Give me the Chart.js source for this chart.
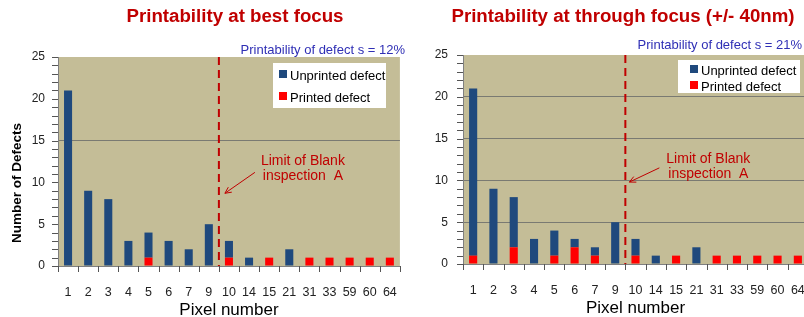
<!DOCTYPE html>
<html>
<head>
<meta charset="utf-8">
<script src="https://cdn.jsdelivr.net/npm/chart.js@4.4.0/dist/chart.umd.min.js"></script>
<style>
html, body { margin: 0; padding: 0; background: #fff; overflow: hidden; width: 804px; height: 317px; }
canvas { position: absolute; top: 0; }
#best { left: 0; }
#through { left: 400px; }
</style>
</head>
<body>
<canvas id="best" width="410" height="317"></canvas>
<canvas id="through" width="420" height="317"></canvas>
<script>
// pixel sizes of the defects (x categories)
const pixelNumbers = ['1', '2', '3', '4', '5', '6', '7', '9', '10', '14', '15', '21', '31', '33', '59', '60', '64'];

// best focus
const bestUnprinted = [21, 9, 8, 3, 3, 3, 2, 5, 2, 1, 0, 2, 0, 0, 0, 0, 0];
const bestPrinted   = [0, 0, 0, 0, 1, 0, 0, 0, 1, 0, 1, 0, 1, 1, 1, 1, 1];
const bestGridLines = [15];

// through focus (+/- 40nm)
const throughUnprinted = [20, 9, 6, 3, 3, 1, 1, 5, 2, 1, 0, 2, 0, 0, 0, 0, 0];
const throughPrinted   = [1, 0, 2, 0, 1, 2, 1, 0, 1, 0, 1, 0, 1, 1, 1, 1, 1];
const throughGridLines = [5, 10, 15, 20];

const yMax = 25;
const yLabelStep = 5;
const lastPixelInsideLimit = '9';

const FONT = '"Liberation Sans", Arial, sans-serif';
const TAN = '#C4BD97';
const BLUE = '#1F497D';
const RED = '#FF0000';
const DARKRED = '#C00000';
const AXIS = '#808080';
const GRID = '#7A7A72';

function font(size, bold) {
    return (bold ? 'bold ' : '') + size + 'px ' + FONT;
}

const decor = {
    id: 'decor',
    beforeDraw(chart) {
        const {ctx, chartArea: a} = chart;
        ctx.save();
        ctx.fillStyle = TAN;
        ctx.fillRect(a.left, a.top, a.right - a.left, a.bottom - a.top);
        ctx.restore();
    },
    afterDraw(chart, args, o) {
        const {ctx, chartArea: a, scales: {x, y}} = chart;
        ctx.save();

        // tick marks (minor on y, category edges on x)
        ctx.strokeStyle = '#555';
        ctx.lineWidth = 1;
        ctx.beginPath();
        y.ticks.forEach(t => {
            const py = Math.round(y.getPixelForValue(t.value)) + 0.5;
            ctx.moveTo(a.left - 6, py);
            ctx.lineTo(a.left, py);
        });
        for (let i = 0; i <= pixelNumbers.length; i++) {
            const px = Math.round(x.getPixelForValue(i - 0.5)) + 0.5;
            ctx.moveTo(px, a.bottom);
            ctx.lineTo(px, a.bottom + 6);
        }
        ctx.stroke();

        // limit line
        const lx = x.getPixelForValue(pixelNumbers.indexOf(lastPixelInsideLimit) + 0.5);
        ctx.strokeStyle = DARKRED;
        ctx.lineWidth = 2;
        ctx.setLineDash([8, 5]);
        ctx.beginPath();
        ctx.moveTo(lx, a.top);
        ctx.lineTo(lx, a.bottom);
        ctx.stroke();
        ctx.setLineDash([]);

        // note
        const n = o.note;
        ctx.fillStyle = DARKRED;
        ctx.font = font(14);
        ctx.textAlign = 'center';
        ctx.textBaseline = 'middle';
        n.lines.forEach((t, i) => ctx.fillText(t, lx + n.dx, y.getPixelForValue(n.ys[i])));

        // arrow
        const x0 = lx + n.from[0], y0 = y.getPixelForValue(n.from[1]);
        const x1 = lx + n.to[0], y1 = y.getPixelForValue(n.to[1]);
        const ang = Math.atan2(y1 - y0, x1 - x0);
        ctx.strokeStyle = DARKRED;
        ctx.lineWidth = 1;
        ctx.beginPath();
        ctx.moveTo(x0, y0);
        ctx.lineTo(x1, y1);
        ctx.moveTo(x1 - 7 * Math.cos(ang - 0.45), y1 - 7 * Math.sin(ang - 0.45));
        ctx.lineTo(x1, y1);
        ctx.lineTo(x1 - 7 * Math.cos(ang + 0.45), y1 - 7 * Math.sin(ang + 0.45));
        ctx.stroke();

        // titles
        ctx.fillStyle = DARKRED;
        ctx.font = font(18.7, true);
        ctx.textAlign = 'center';
        ctx.fillText(o.title, o.titleX, 17);

        ctx.fillStyle = '#2F2FB5';
        ctx.font = font(13);
        ctx.textAlign = 'right';
        ctx.fillText(o.subtitle, o.subRight, o.subY);

        // x axis title
        ctx.fillStyle = '#000';
        ctx.font = font(17);
        ctx.textAlign = 'center';
        ctx.fillText('Pixel number', (a.left + a.right) / 2, o.xTitleY);

        // y axis title
        if (o.yTitle) {
            ctx.save();
            ctx.translate(17, 183);
            ctx.rotate(-Math.PI / 2);
            ctx.font = font(13.5, true);
            ctx.fillText(o.yTitle, 0, 0);
            ctx.restore();
        }

        // legend
        const L = o.legend;
        ctx.fillStyle = '#fff';
        ctx.fillRect(L.x, L.y, L.w, L.h);
        ctx.font = font(13);
        ctx.textAlign = 'left';
        [1, 0].forEach((di, i) => {
            const ds = chart.data.datasets[di];
            const cy = L.rows[i];
            ctx.fillStyle = ds.backgroundColor;
            ctx.fillRect(L.sq, cy - 6, 8, 8);
            ctx.fillStyle = '#000';
            ctx.fillText(ds.label, L.sq + 11, cy);
        });
        ctx.restore();
    }
};

function makeChart(id, unprinted, printed, gridLines, pad, yWidth, xHeight, yTickPad, decorOpts) {
    return new Chart(document.getElementById(id).getContext('2d'), {
        type: 'bar',
        data: {
            labels: pixelNumbers,
            datasets: [{
                label: 'Printed defect',
                data: printed,
                backgroundColor: RED,
                barPercentage: 0.4,
                categoryPercentage: 1
            }, {
                label: 'Unprinted defect',
                data: unprinted,
                backgroundColor: BLUE,
                barPercentage: 0.4,
                categoryPercentage: 1
            }]
        },
        options: {
            responsive: false,
            animation: false,
            devicePixelRatio: 1,
            layout: {padding: pad},
            plugins: {
                legend: {display: false},
                title: {display: false},
                tooltip: {enabled: false},
                decor: decorOpts
            },
            scales: {
                x: {
                    stacked: true,
                    afterFit: s => { s.height = xHeight; },
                    border: {display: true, color: AXIS, width: 1},
                    grid: {display: false, offset: true, tickLength: 6},
                    ticks: {color: '#222', font: {family: FONT, size: 12.5}, padding: 13, maxRotation: 0, autoSkip: false}
                },
                y: {
                    stacked: true,
                    min: 0,
                    max: yMax,
                    afterFit: s => { s.width = yWidth; },
                    border: {display: true, color: AXIS, width: 1},
                    grid: {
                        drawTicks: false,
                        color: c => gridLines.includes(c.tick.value) ? GRID : 'rgba(0,0,0,0)'
                    },
                    ticks: {
                        stepSize: 1,
                        autoSkip: false,
                        color: '#222',
                        font: {family: FONT, size: 12},
                        padding: yTickPad + 6,
                        callback: v => v % yLabelStep === 0 ? v : ''
                    }
                }
            }
        },
        plugins: [decor]
    });
}

makeChart('best', bestUnprinted, bestPrinted, bestGridLines,
    {left: 0, top: 57, right: 7, bottom: 0}, 58, 51, 7, {
        title: 'Printability at best focus', titleX: 235,
        subtitle: 'Printability of defect s = 12%', subRight: 405, subY: 50,
        xTitleY: 310,
        yTitle: 'Number of Defects',
        legend: {x: 273, y: 63, w: 113, h: 45, rows: [76, 98], sq: 279},
        note: {lines: ['Limit of Blank', 'inspection  A'], dx: 84, ys: [12.6, 10.7], from: [36, 11.2], to: [6, 8.7]}
    });

makeChart('through', throughUnprinted, throughPrinted, throughGridLines,
    {left: 0, top: 55, right: 12, bottom: 0}, 63, 53, 9, {
        title: 'Printability at through focus (+/- 40nm)', titleX: 223,
        subtitle: 'Printability of defect s = 21%', subRight: 402, subY: 45,
        xTitleY: 308,
        yTitle: null,
        legend: {x: 278, y: 60, w: 122, h: 33, rows: [71, 87], sq: 290},
        note: {lines: ['Limit of Blank', 'inspection  A'], dx: 83, ys: [12.6, 10.8], from: [34, 11.5], to: [4, 9.8]}
    });
</script>
</body>
</html>
